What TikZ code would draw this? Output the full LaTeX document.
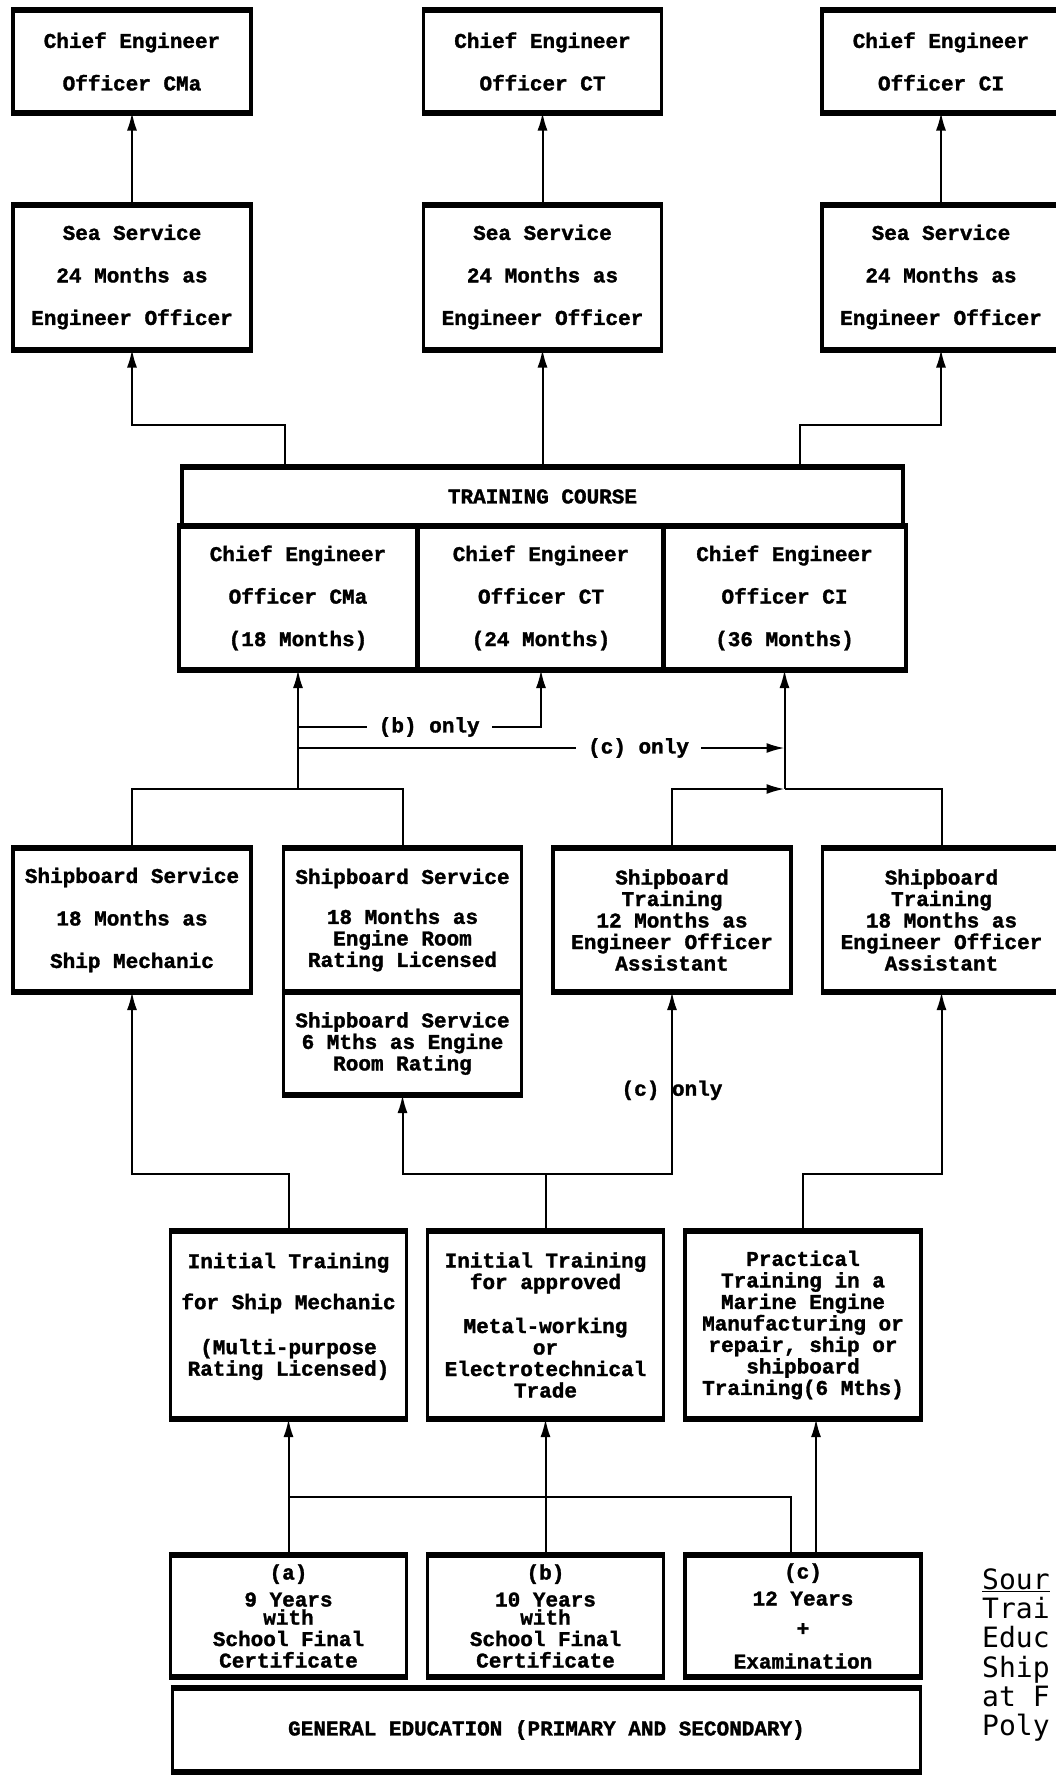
\documentclass[tikz,border=0pt]{standalone}
\usepackage{fontspec}
\newfontfamily\boxfont{Liberation Mono}[BoldFeatures={FakeBold=1.5}]
\newfontfamily\srcfont{DejaVu Sans Mono}
\usetikzlibrary{arrows.meta,calc}

\tikzset{
  box/.style={draw,line width=3.5pt,outer sep=0pt,inner sep=0pt,minimum width=238pt,align=center,
    font=\boxfont\bfseries\fontsize{21}{42.5}\selectfont},
  dense/.style={box,font=\boxfont\bfseries\fontsize{21}{21.5}\selectfont},
  link/.style={line width=2pt},
  arr/.style={link,-{Latex[length=18pt,width=10pt]}},
  lbl/.style={fill=white,inner xsep=12pt,inner ysep=2pt,font=\boxfont\bfseries\fontsize{21}{21.5}\selectfont}
}

\begin{document}
\begin{tikzpicture}[x=1pt,y=-1pt]
  \useasboundingbox (0,0) rectangle (1055,1777);
  \fill[white] (0,0) rectangle (1055,1777);

  \node[box,minimum height=102pt] (ce1) at (132,61.5) {Chief Engineer\\Officer CMa};
  \node[box,minimum height=102pt] (ce2) at (542.5,61.5) {Chief Engineer\\Officer CT};
  \node[box,minimum height=102pt] (ce3) at (941,61.5) {Chief Engineer\\Officer CI};
  \node[box,minimum height=145pt] (sea1) at (132,277) {Sea Service\\24 Months as\\Engineer Officer};
  \node[box,minimum height=145pt] (sea2) at (542.5,277) {Sea Service\\24 Months as\\Engineer Officer};
  \node[box,minimum height=145pt] (sea3) at (941,277) {Sea Service\\24 Months as\\Engineer Officer};

  \node[box,minimum width=721pt,minimum height=59pt] (course) at (542.5,496.5) {TRAINING COURSE};
  \node[box,minimum height=144pt] (tc1) at (298,598) {Chief Engineer\\Officer CMa\\(18 Months)};
  \node[box,minimum width=246pt,minimum height=144pt] (tc2) at (541,598) {Chief Engineer\\Officer CT\\(24 Months)};
  \node[box,minimum width=243pt,minimum height=144pt] (tc3) at (784.5,598) {Chief Engineer\\Officer CI\\(36 Months)};

  \node[box,minimum height=144pt] (ship1) at (132,920) {Shipboard Service\\18 Months as\\Ship Mechanic};
  \node[dense,minimum height=144pt] (ship2) at (402.5,920) {Shipboard Service\\[18.5pt]18 Months as\\Engine Room\\Rating Licensed};
  \node[dense,minimum height=103pt] (ship2b) at (402.5,1043.5) {Shipboard Service\\6 Mths as Engine\\Room Rating};
  \node[dense,minimum height=144pt] (ship3) at (672,920) {Shipboard\\Training\\12 Months as\\Engineer Officer\\Assistant};
  \node[dense,minimum height=144pt] (ship4) at (941.5,920) {Shipboard\\Training\\18 Months as\\Engineer Officer\\Assistant};

  \node[dense,minimum width=236pt,minimum height=188pt] (init1) at (288.5,1325) {Initial Training\\[19.5pt]for Ship Mechanic\\[23.5pt](Multi-purpose\\Rating Licensed)\\\mbox{}};
  \node[dense,minimum width=236pt,minimum height=188pt] (init2) at (545.5,1325) {Initial Training\\for approved\\[22.5pt]Metal-working\\or\\Electrotechnical\\Trade};
  \node[dense,minimum width=236pt,minimum height=188pt] (init3) at (803,1325) {Practical\\Training in a\\Marine Engine\\Manufacturing or\\repair, ship or\\shipboard\\Training(6 Mths)};

  \node[dense,minimum width=236pt,minimum height=122pt] (school1) at (288.5,1616) {(a)\\[5.5pt]9 Years\\[-3.5pt]with\\School Final\\Certificate};
  \node[dense,minimum width=236pt,minimum height=122pt] (school2) at (545.5,1616) {(b)\\[5.5pt]10 Years\\[-3.5pt]with\\School Final\\Certificate};
  \node[dense,minimum width=236pt,minimum height=122pt] (school3) at (803,1616) {(c)\\[5.5pt]12 Years\\[8.5pt]+\\[11.5pt]Examination};
  \node[box,minimum width=748pt,minimum height=84pt] (gened) at (546.5,1730) {GENERAL EDUCATION (PRIMARY AND SECONDARY)};

  \node[anchor=west,inner sep=0pt,align=left,font=\srcfont\fontsize{28}{29.2}\selectfont] (source) at (982,1655)
    {\underline{Sour}\\Trai\\Educ\\Ship\\at F\\Poly};

  \foreach \n in {ce1,ce2,ce3,sea1,sea2,sea3,course,tc1,tc2,tc3,ship1,ship2,ship2b,ship3,ship4,
                  init1,init2,init3,school1,school2,school3,gened}
    \draw[line width=6pt] ([xshift=-1.75pt]\n.north west) -- ([xshift=1.75pt]\n.north east)
                          ([xshift=-1.75pt]\n.south west) -- ([xshift=1.75pt]\n.south east);

  \coordinate (busL) at (298,789);
  \coordinate (busR) at (784.5,789);
  \coordinate (bonly) at (298,727);
  \coordinate (conly) at (298,748);
  \coordinate (busM) at (545.5,1174);

  \foreach \i in {1,2,3}
    \draw[arr] (sea\i) -- (ce\i);
  \draw[arr] ([xshift=-257.5pt]course.north) -- ++(0,-42) -| (sea1);
  \draw[arr] (course) -- (sea2);
  \draw[arr] ([xshift=257.5pt]course.north) -- ++(0,-42) -| (sea3);

  \draw[link] (ship1) |- (busL) -| (ship2);
  \draw[arr] (busL) -- (tc1);
  \draw[arr] (bonly) -| node[lbl,pos=0.27] {(b) only} (tc2);
  \draw[arr] (conly) -- node[lbl,pos=0.7] {(c) only} (conly -| busR);
  \draw[arr] (ship3) |- (busR);
  \draw[link] (ship4) |- (busR);
  \draw[arr] (busR) -- (tc3);

  \draw[arr] (init1.north) -- ++(0,-57) -| (ship1);
  \draw[link] (init2) -- (busM);
  \draw[arr] (busM) -| (ship2b);
  \draw[arr] (busM) -| node[pos=0.73,font=\boxfont\bfseries\fontsize{21}{21.5}\selectfont] {(c) only} (ship3);
  \draw[arr] (init3.north) -- ++(0,-57) -| (ship4);

  \draw[arr] (school1) -- (init1);
  \draw[arr] (school2) -- (init2);
  \draw[arr] ([xshift=13pt]school3.north) -- ([xshift=13pt]init3.south);
  \draw[link] ([xshift=-12pt]school3.north) |- ($(school1.north)!0.43!(init1.south)$);
\end{tikzpicture}
\end{document}
